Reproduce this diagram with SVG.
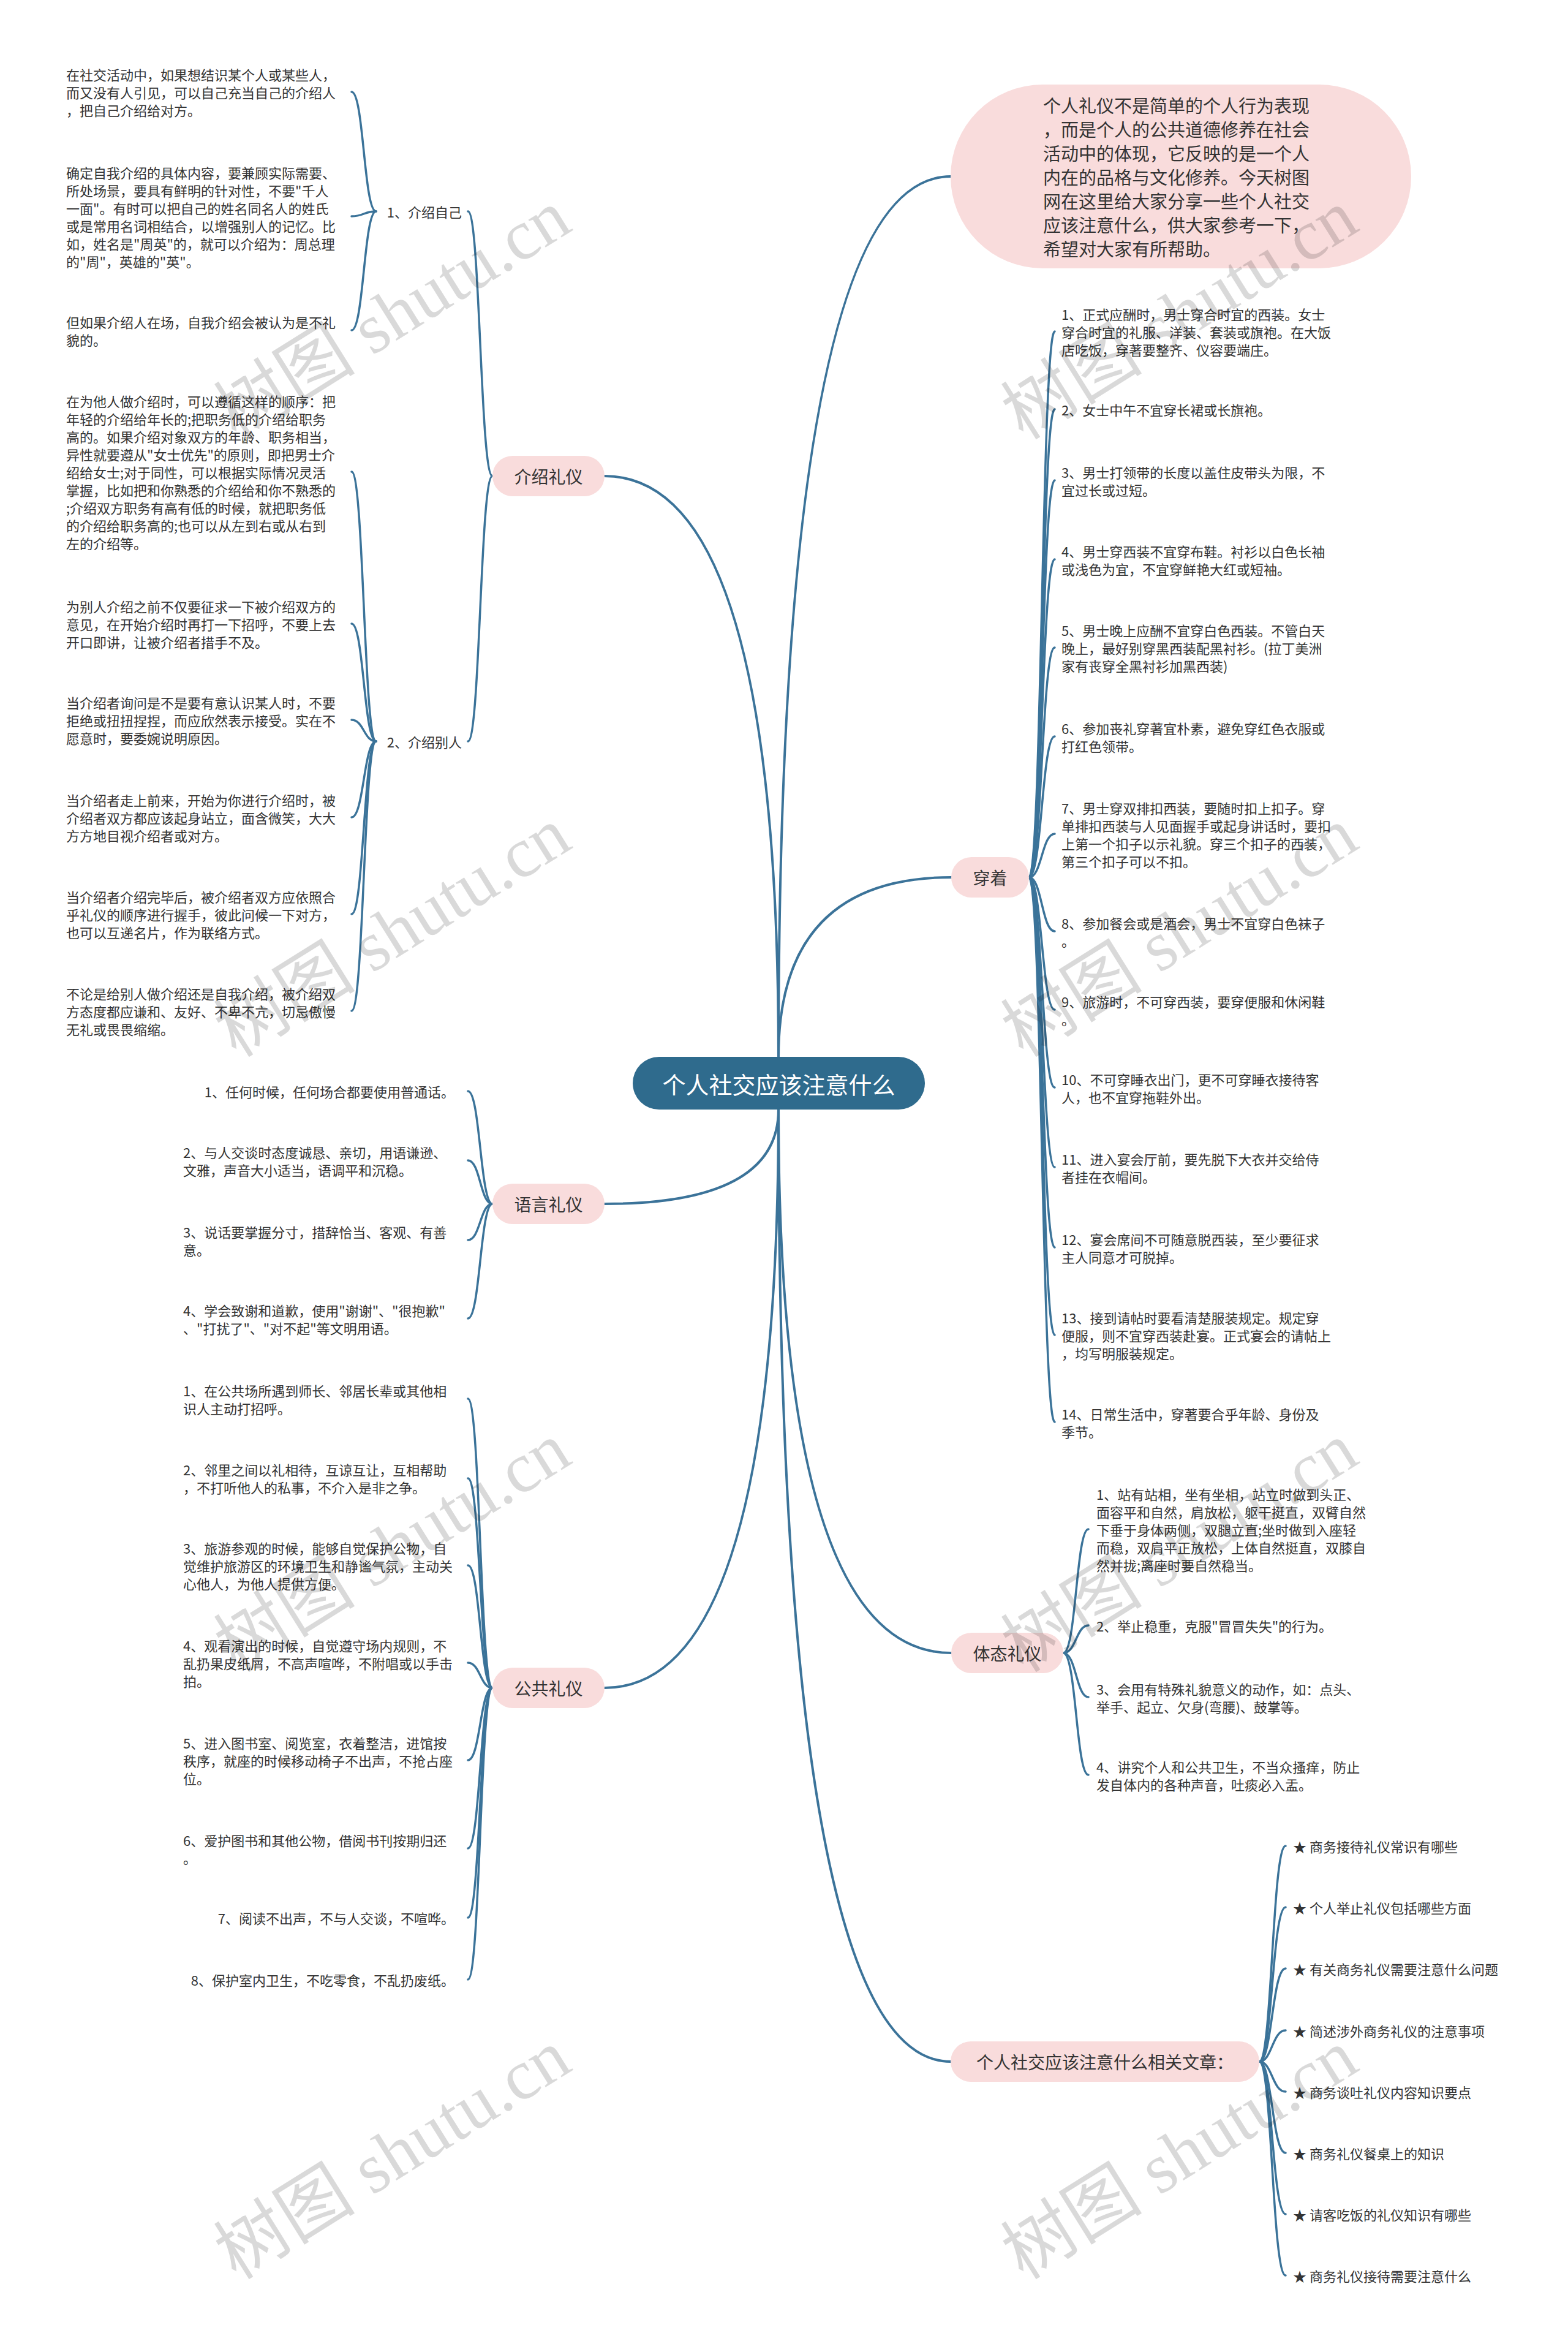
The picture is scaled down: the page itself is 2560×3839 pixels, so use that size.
<svg xmlns="http://www.w3.org/2000/svg" width="2560" height="3839" viewBox="0 0 2560 3839">
<style>
text{font-family:"Noto Sans CJK SC","Liberation Sans",sans-serif;fill:#333;dominant-baseline:central}
.t{font-size:22px}
.m{font-size:28px;text-anchor:middle}
.b{font-size:29px}
.c{font-size:38px;fill:#fff;text-anchor:middle}
.e{text-anchor:end}
.pink{fill:#f9dcdc}
.edge{fill:none;stroke:#3b7399;stroke-width:4;stroke-linecap:round}
.sub{fill:none;stroke:#3b7399;stroke-width:3.5;stroke-linecap:round}
.wm{font-family:"Liberation Serif","Noto Sans CJK SC",serif;font-size:116px;fill:#000;fill-opacity:0.15;text-anchor:middle}
</style>
<rect width="2560" height="3839" fill="#fff"/>

<g id="connectors">
<path class="edge" d="M1271 1725 Q1271 777 987 777"/>
<path class="edge" d="M1271 1725 Q1271 288 1552 288"/>
<path class="edge" d="M1271 1725 Q1271 1432 1553 1432"/>
<path class="edge" d="M1271 1811 Q1271 1965 987 1965"/>
<path class="edge" d="M1271 1811 Q1271 2755 987 2755"/>
<path class="edge" d="M1271 1811 Q1271 2698 1553 2698"/>
<path class="edge" d="M1271 1811 Q1271 3365 1552 3365"/>

<path class="sub" d="M804 777 C784 777 784 345 764 345"/>
<path class="sub" d="M804 777 C784 777 784 1210 764 1210"/>

<path class="sub" d="M614 345 C594 345 594 150 574 150"/>
<path class="sub" d="M614 345 C594 345 594 353 574 353"/>
<path class="sub" d="M614 345 C594 345 594 539 574 539"/>

<path class="sub" d="M614 1210 C594 1210 594 770 574 770"/>
<path class="sub" d="M614 1210 C594 1210 594 1018 574 1018"/>
<path class="sub" d="M614 1210 C594 1210 594 1175 574 1175"/>
<path class="sub" d="M614 1210 C594 1210 594 1334 574 1334"/>
<path class="sub" d="M614 1210 C594 1210 594 1492 574 1492"/>
<path class="sub" d="M614 1210 C594 1210 594 1650 574 1650"/>

<path class="sub" d="M804 1965 C784 1965 784 1781 764 1781"/>
<path class="sub" d="M804 1965 C784 1965 784 1894 764 1894"/>
<path class="sub" d="M804 1965 C784 1965 784 2024 764 2024"/>
<path class="sub" d="M804 1965 C784 1965 784 2152 764 2152"/>

<path class="sub" d="M804 2755 C784 2755 784 2283 764 2283"/>
<path class="sub" d="M804 2755 C784 2755 784 2413 764 2413"/>
<path class="sub" d="M804 2755 C784 2755 784 2555 764 2555"/>
<path class="sub" d="M804 2755 C784 2755 784 2714 764 2714"/>
<path class="sub" d="M804 2755 C784 2755 784 2873 764 2873"/>
<path class="sub" d="M804 2755 C784 2755 784 3017 764 3017"/>
<path class="sub" d="M804 2755 C784 2755 784 3130 764 3130"/>
<path class="sub" d="M804 2755 C784 2755 784 3231 764 3231"/>

<path class="sub" d="M1680 1432 C1701 1432 1701 541 1722 541"/>
<path class="sub" d="M1680 1432 C1701 1432 1701 668 1722 668"/>
<path class="sub" d="M1680 1432 C1701 1432 1701 784 1722 784"/>
<path class="sub" d="M1680 1432 C1701 1432 1701 913 1722 913"/>
<path class="sub" d="M1680 1432 C1701 1432 1701 1057 1722 1057"/>
<path class="sub" d="M1680 1432 C1701 1432 1701 1202 1722 1202"/>
<path class="sub" d="M1680 1432 C1701 1432 1701 1361 1722 1361"/>
<path class="sub" d="M1680 1432 C1701 1432 1701 1520 1722 1520"/>
<path class="sub" d="M1680 1432 C1701 1432 1701 1648 1722 1648"/>
<path class="sub" d="M1680 1432 C1701 1432 1701 1775 1722 1775"/>
<path class="sub" d="M1680 1432 C1701 1432 1701 1905 1722 1905"/>
<path class="sub" d="M1680 1432 C1701 1432 1701 2036 1722 2036"/>
<path class="sub" d="M1680 1432 C1701 1432 1701 2179 1722 2179"/>
<path class="sub" d="M1680 1432 C1701 1432 1701 2321 1722 2321"/>

<path class="sub" d="M1736 2698 C1757 2698 1757 2496 1777 2496"/>
<path class="sub" d="M1736 2698 C1757 2698 1757 2653 1777 2653"/>
<path class="sub" d="M1736 2698 C1757 2698 1757 2770 1777 2770"/>
<path class="sub" d="M1736 2698 C1757 2698 1757 2897 1777 2897"/>

<path class="sub" d="M2056 3365 C2077 3365 2077 3013 2099 3013"/>
<path class="sub" d="M2056 3365 C2077 3365 2077 3113 2099 3113"/>
<path class="sub" d="M2056 3365 C2077 3365 2077 3213 2099 3213"/>
<path class="sub" d="M2056 3365 C2077 3365 2077 3314 2099 3314"/>
<path class="sub" d="M2056 3365 C2077 3365 2077 3414 2099 3414"/>
<path class="sub" d="M2056 3365 C2077 3365 2077 3514 2099 3514"/>
<path class="sub" d="M2056 3365 C2077 3365 2077 3614 2099 3614"/>
<path class="sub" d="M2056 3365 C2077 3365 2077 3714 2099 3714"/>
</g>

<g id="center">
<rect x="1033" y="1725" width="477" height="86" rx="43" fill="#2f6b8d"/>
<text class="c" x="1271.5" y="1768">个人社交应该注意什么</text>
</g>

<g id="intro-bubble">
<rect class="pink" x="1552" y="138" width="752" height="300" rx="150"/>
<text class="b" x="1703" y="171">个人礼仪不是简单的个人行为表现</text>
<text class="b" x="1703" y="210">，而是个人的公共道德修养在社会</text>
<text class="b" x="1703" y="249">活动中的体现，它反映的是一个人</text>
<text class="b" x="1703" y="288">内在的品格与文化修养。今天树图</text>
<text class="b" x="1703" y="327">网在这里给大家分享一些个人社交</text>
<text class="b" x="1703" y="366">应该注意什么，供大家参考一下，</text>
<text class="b" x="1703" y="405">希望对大家有所帮助。</text>
</g>

<g id="jieshao">
<rect class="pink" x="804" y="744" width="183" height="66" rx="33"/>
<text class="m" x="895.5" y="777">介绍礼仪</text>
</g>
<g id="jieshao-ziji"><text class="t e" x="754" y="345">1、介绍自己</text></g>
<g id="jieshao-bieren"><text class="t e" x="754" y="1210">2、介绍别人</text></g>

<g id="zj1">
<text class="t" x="108" y="121">在社交活动中，如果想结识某个人或某些人，</text>
<text class="t" x="108" y="150">而又没有人引见，可以自己充当自己的介绍人</text>
<text class="t" x="108" y="179">，把自己介绍给对方。</text>
</g>
<g id="zj2">
<text class="t" x="108" y="281">确定自我介绍的具体内容，要兼顾实际需要、</text>
<text class="t" x="108" y="310">所处场景，要具有鲜明的针对性，不要"千人</text>
<text class="t" x="108" y="339">一面"。有时可以把自己的姓名同名人的姓氏</text>
<text class="t" x="108" y="368">或是常用名词相结合，以增强别人的记忆。比</text>
<text class="t" x="108" y="397">如，姓名是"周英"的，就可以介绍为：周总理</text>
<text class="t" x="108" y="426">的"周"，英雄的"英"。</text>
</g>
<g id="zj3">
<text class="t" x="108" y="525">但如果介绍人在场，自我介绍会被认为是不礼</text>
<text class="t" x="108" y="554">貌的。</text>
</g>

<g id="br1">
<text class="t" x="108" y="654">在为他人做介绍时，可以遵循这样的顺序：把</text>
<text class="t" x="108" y="683">年轻的介绍给年长的;把职务低的介绍给职务</text>
<text class="t" x="108" y="712">高的。如果介绍对象双方的年龄、职务相当，</text>
<text class="t" x="108" y="741">异性就要遵从"女士优先"的原则，即把男士介</text>
<text class="t" x="108" y="770">绍给女士;对于同性，可以根据实际情况灵活</text>
<text class="t" x="108" y="799">掌握，比如把和你熟悉的介绍给和你不熟悉的</text>
<text class="t" x="108" y="828">;介绍双方职务有高有低的时候，就把职务低</text>
<text class="t" x="108" y="857">的介绍给职务高的;也可以从左到右或从右到</text>
<text class="t" x="108" y="886">左的介绍等。</text>
</g>
<g id="br2">
<text class="t" x="108" y="989">为别人介绍之前不仅要征求一下被介绍双方的</text>
<text class="t" x="108" y="1018">意见，在开始介绍时再打一下招呼，不要上去</text>
<text class="t" x="108" y="1047">开口即讲，让被介绍者措手不及。</text>
</g>
<g id="br3">
<text class="t" x="108" y="1146">当介绍者询问是不是要有意认识某人时，不要</text>
<text class="t" x="108" y="1175">拒绝或扭扭捏捏，而应欣然表示接受。实在不</text>
<text class="t" x="108" y="1204">愿意时，要委婉说明原因。</text>
</g>
<g id="br4">
<text class="t" x="108" y="1305">当介绍者走上前来，开始为你进行介绍时，被</text>
<text class="t" x="108" y="1334">介绍者双方都应该起身站立，面含微笑，大大</text>
<text class="t" x="108" y="1363">方方地目视介绍者或对方。</text>
</g>
<g id="br5">
<text class="t" x="108" y="1463">当介绍者介绍完毕后，被介绍者双方应依照合</text>
<text class="t" x="108" y="1492">乎礼仪的顺序进行握手，彼此问候一下对方，</text>
<text class="t" x="108" y="1521">也可以互递名片，作为联络方式。</text>
</g>
<g id="br6">
<text class="t" x="108" y="1621">不论是给别人做介绍还是自我介绍，被介绍双</text>
<text class="t" x="108" y="1650">方态度都应谦和、友好、不卑不亢，切忌傲慢</text>
<text class="t" x="108" y="1679">无礼或畏畏缩缩。</text>
</g>

<g id="yuyan">
<rect class="pink" x="804" y="1932" width="183" height="66" rx="33"/>
<text class="m" x="895.5" y="1965">语言礼仪</text>
</g>
<g id="yy1"><text class="t e" x="742" y="1781">1、任何时候，任何场合都要使用普通话。</text></g>
<g id="yy2">
<text class="t" x="299" y="1880">2、与人交谈时态度诚恳、亲切，用语谦逊、</text>
<text class="t" x="299" y="1909">文雅，声音大小适当，语调平和沉稳。</text>
</g>
<g id="yy3">
<text class="t" x="299" y="2010">3、说话要掌握分寸，措辞恰当、客观、有善</text>
<text class="t" x="299" y="2039">意。</text>
</g>
<g id="yy4">
<text class="t" x="299" y="2138">4、学会致谢和道歉，使用"谢谢"、"很抱歉"</text>
<text class="t" x="299" y="2167">、"打扰了"、"对不起"等文明用语。</text>
</g>

<g id="gonggong">
<rect class="pink" x="804" y="2722" width="183" height="66" rx="33"/>
<text class="m" x="895.5" y="2755">公共礼仪</text>
</g>
<g id="gg1">
<text class="t" x="299" y="2269">1、在公共场所遇到师长、邻居长辈或其他相</text>
<text class="t" x="299" y="2298">识人主动打招呼。</text>
</g>
<g id="gg2">
<text class="t" x="299" y="2398">2、邻里之间以礼相待，互谅互让，互相帮助</text>
<text class="t" x="299" y="2427">，不打听他人的私事，不介入是非之争。</text>
</g>
<g id="gg3">
<text class="t" x="299" y="2526">3、旅游参观的时候，能够自觉保护公物，自</text>
<text class="t" x="299" y="2555">觉维护旅游区的环境卫生和静谧气氛，主动关</text>
<text class="t" x="299" y="2584">心他人，为他人提供方便。</text>
</g>
<g id="gg4">
<text class="t" x="299" y="2685">4、观看演出的时候，自觉遵守场内规则，不</text>
<text class="t" x="299" y="2714">乱扔果皮纸屑，不高声喧哗，不附唱或以手击</text>
<text class="t" x="299" y="2743">拍。</text>
</g>
<g id="gg5">
<text class="t" x="299" y="2844">5、进入图书室、阅览室，衣着整洁，进馆按</text>
<text class="t" x="299" y="2873">秩序，就座的时候移动椅子不出声，不抢占座</text>
<text class="t" x="299" y="2902">位。</text>
</g>
<g id="gg6">
<text class="t" x="299" y="3003">6、爱护图书和其他公物，借阅书刊按期归还</text>
<text class="t" x="299" y="3032">。</text>
</g>
<g id="gg7"><text class="t e" x="742" y="3130">7、阅读不出声，不与人交谈，不喧哗。</text></g>
<g id="gg8"><text class="t e" x="742" y="3231">8、保护室内卫生，不吃零食，不乱扔废纸。</text></g>

<g id="chuanzhuo">
<rect class="pink" x="1553" y="1399" width="127" height="66" rx="33"/>
<text class="m" x="1616.5" y="1432">穿着</text>
</g>
<g id="cz1">
<text class="t" x="1733" y="512">1、正式应酬时，男士穿合时宜的西装。女士</text>
<text class="t" x="1733" y="541">穿合时宜的礼服、洋装、套装或旗袍。在大饭</text>
<text class="t" x="1733" y="570">店吃饭，穿著要整齐、仪容要端庄。</text>
</g>
<g id="cz2"><text class="t" x="1733" y="668">2、女士中午不宜穿长裙或长旗袍。</text></g>
<g id="cz3">
<text class="t" x="1733" y="770">3、男士打领带的长度以盖住皮带头为限，不</text>
<text class="t" x="1733" y="799">宜过长或过短。</text>
</g>
<g id="cz4">
<text class="t" x="1733" y="899">4、男士穿西装不宜穿布鞋。衬衫以白色长袖</text>
<text class="t" x="1733" y="928">或浅色为宜，不宜穿鲜艳大红或短袖。</text>
</g>
<g id="cz5">
<text class="t" x="1733" y="1028">5、男士晚上应酬不宜穿白色西装。不管白天</text>
<text class="t" x="1733" y="1057">晚上，最好别穿黑西装配黑衬衫。(拉丁美洲</text>
<text class="t" x="1733" y="1086">家有丧穿全黑衬衫加黑西装)</text>
</g>
<g id="cz6">
<text class="t" x="1733" y="1188">6、参加丧礼穿著宜朴素，避免穿红色衣服或</text>
<text class="t" x="1733" y="1217">打红色领带。</text>
</g>
<g id="cz7">
<text class="t" x="1733" y="1318">7、男士穿双排扣西装，要随时扣上扣子。穿</text>
<text class="t" x="1733" y="1347">单排扣西装与人见面握手或起身讲话时，要扣</text>
<text class="t" x="1733" y="1376">上第一个扣子以示礼貌。穿三个扣子的西装，</text>
<text class="t" x="1733" y="1405">第三个扣子可以不扣。</text>
</g>
<g id="cz8">
<text class="t" x="1733" y="1506">8、参加餐会或是酒会，男士不宜穿白色袜子</text>
<text class="t" x="1733" y="1535">。</text>
</g>
<g id="cz9">
<text class="t" x="1733" y="1634">9、旅游时，不可穿西装，要穿便服和休闲鞋</text>
<text class="t" x="1733" y="1663">。</text>
</g>
<g id="cz10">
<text class="t" x="1733" y="1761">10、不可穿睡衣出门，更不可穿睡衣接待客</text>
<text class="t" x="1733" y="1790">人，也不宜穿拖鞋外出。</text>
</g>
<g id="cz11">
<text class="t" x="1733" y="1891">11、进入宴会厅前，要先脱下大衣并交给侍</text>
<text class="t" x="1733" y="1920">者挂在衣帽间。</text>
</g>
<g id="cz12">
<text class="t" x="1733" y="2022">12、宴会席间不可随意脱西装，至少要征求</text>
<text class="t" x="1733" y="2051">主人同意才可脱掉。</text>
</g>
<g id="cz13">
<text class="t" x="1733" y="2150">13、接到请帖时要看清楚服装规定。规定穿</text>
<text class="t" x="1733" y="2179">便服，则不宜穿西装赴宴。正式宴会的请帖上</text>
<text class="t" x="1733" y="2208">，均写明服装规定。</text>
</g>
<g id="cz14">
<text class="t" x="1733" y="2307">14、日常生活中，穿著要合乎年龄、身份及</text>
<text class="t" x="1733" y="2336">季节。</text>
</g>

<g id="titai">
<rect class="pink" x="1553" y="2665" width="183" height="66" rx="33"/>
<text class="m" x="1644.5" y="2698">体态礼仪</text>
</g>
<g id="tt1">
<text class="t" x="1790" y="2438">1、站有站相，坐有坐相，站立时做到头正、</text>
<text class="t" x="1790" y="2467">面容平和自然，肩放松，躯干挺直，双臂自然</text>
<text class="t" x="1790" y="2496">下垂于身体两侧，双腿立直;坐时做到入座轻</text>
<text class="t" x="1790" y="2525">而稳，双肩平正放松，上体自然挺直，双膝自</text>
<text class="t" x="1790" y="2554">然并拢;离座时要自然稳当。</text>
</g>
<g id="tt2"><text class="t" x="1790" y="2653">2、举止稳重，克服"冒冒失失"的行为。</text></g>
<g id="tt3">
<text class="t" x="1790" y="2756">3、会用有特殊礼貌意义的动作，如：点头、</text>
<text class="t" x="1790" y="2785">举手、起立、欠身(弯腰)、鼓掌等。</text>
</g>
<g id="tt4">
<text class="t" x="1790" y="2883">4、讲究个人和公共卫生，不当众搔痒，防止</text>
<text class="t" x="1790" y="2912">发自体内的各种声音，吐痰必入盂。</text>
</g>

<g id="related">
<rect class="pink" x="1552" y="3332" width="504" height="66" rx="33"/>
<text class="m" x="1804" y="3365">个人社交应该注意什么相关文章：</text>
</g>
<g id="rel1"><text class="t" x="2111" y="3013">★ 商务接待礼仪常识有哪些</text></g>
<g id="rel2"><text class="t" x="2111" y="3113">★ 个人举止礼仪包括哪些方面</text></g>
<g id="rel3"><text class="t" x="2111" y="3213">★ 有关商务礼仪需要注意什么问题</text></g>
<g id="rel4"><text class="t" x="2111" y="3314">★ 简述涉外商务礼仪的注意事项</text></g>
<g id="rel5"><text class="t" x="2111" y="3414">★ 商务谈吐礼仪内容知识要点</text></g>
<g id="rel6"><text class="t" x="2111" y="3514">★ 商务礼仪餐桌上的知识</text></g>
<g id="rel7"><text class="t" x="2111" y="3614">★ 请客吃饭的礼仪知识有哪些</text></g>
<g id="rel8"><text class="t" x="2111" y="3714">★ 商务礼仪接待需要注意什么</text></g>

<g id="watermarks">
<text class="wm" x="641" y="514" transform="rotate(-32 641 514)">树图 shutu.cn</text>
<text class="wm" x="1926" y="514" transform="rotate(-32 1926 514)">树图 shutu.cn</text>
<text class="wm" x="641" y="1522" transform="rotate(-32 641 1522)">树图 shutu.cn</text>
<text class="wm" x="1926" y="1522" transform="rotate(-32 1926 1522)">树图 shutu.cn</text>
<text class="wm" x="641" y="2526" transform="rotate(-32 641 2526)">树图 shutu.cn</text>
<text class="wm" x="1926" y="2526" transform="rotate(-32 1926 2526)">树图 shutu.cn</text>
<text class="wm" x="641" y="3517" transform="rotate(-32 641 3517)">树图 shutu.cn</text>
<text class="wm" x="1926" y="3517" transform="rotate(-32 1926 3517)">树图 shutu.cn</text>
</g>
</svg>
